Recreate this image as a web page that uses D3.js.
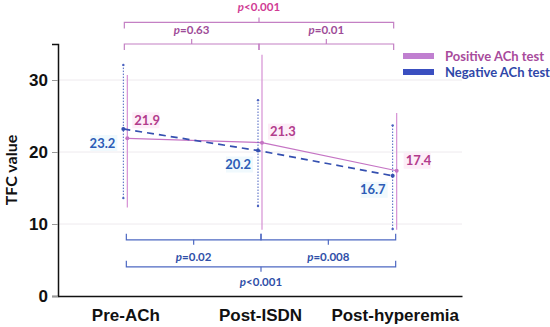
<!DOCTYPE html>
<html>
<head>
<meta charset="utf-8">
<script src="https://cdn.jsdelivr.net/npm/d3@7"></script>
<style>
  body { margin: 0; background: #fff; }
  svg { display: block; font-family: Lato, "Open Sans", sans-serif; }
</style>
</head>
<body>
<div id="chart"></div>
<script>
// Data
const categories = ['Pre-ACh', 'Post-ISDN', 'Post-hyperemia'];
const positiveMean = [21.9, 21.3, 17.4];
const positiveLow = [12.3, 9.2, 9.2];
const positiveHigh = [30.7, 33.5, 25.4];
const negativeMean = [23.2, 20.2, 16.7];
const negativeLow = [13.6, 12.5, 9.3];
const negativeHigh = [32.1, 27.2, 23.7];
const yTicks = [0, 10, 20, 30];

// pairwise comparisons: [fromIndex, toIndex, label]
const positiveTests = [[0, 1, '=0.63'], [1, 2, '=0.01'], [0, 2, '<0.001']];
const negativeTests = [[0, 1, '=0.02'], [1, 2, '=0.008'], [0, 2, '<0.001']];

const width = 550, height = 327;
const margin = { top: 44, right: 88, bottom: 31, left: 58 };

const svg = d3.select('#chart').append('svg')
    .attr('width', width)
    .attr('height', height);

const x = d3.scalePoint()
    .domain(categories)
    .range([margin.left, width - margin.right])
    .padding(0.5);

const y = d3.scaleLinear()
    .domain([0, 35])
    .range([height - margin.bottom, margin.top]);

const pink = { line: '#c574c4', err: '#d690d4', text: '#b23c8c', bg: '#fdeef8' };
const blue = { line: '#3550b0', err: '#4a62c0', text: '#2c5cb6', bg: '#f0f9fd' };

// faint gridlines
svg.append('g')
  .selectAll('line')
    .data(yTicks.filter(d => d > 0))
  .enter().append('line')
    .attr('x1', margin.left).attr('x2', width - margin.right)
    .attr('y1', d => y(d)).attr('y2', d => y(d))
    .attr('stroke', '#eeeaee');

// y axis
const yAxis = svg.append('g')
    .attr('transform', `translate(${margin.left},0)`)
    .call(d3.axisLeft(y).tickValues(yTicks).tickSize(6).tickPadding(4));
yAxis.select('.domain').attr('stroke', '#111').attr('stroke-width', 1.5);
yAxis.selectAll('.tick line').attr('stroke', '#999');
yAxis.selectAll('.tick text')
    .attr('fill', '#111')
    .style('font-size', '17px')
    .style('font-weight', 700);

// x axis (line only, labels below)
const xAxis = svg.append('g')
    .attr('transform', `translate(0,${y(0)})`)
    .call(d3.axisBottom(x).tickSize(0).tickPadding(13));
xAxis.select('.domain').attr('stroke', '#111').attr('stroke-width', 1.5);
xAxis.selectAll('.tick text')
    .attr('fill', '#111')
    .style('font-size', '17px')
    .style('font-weight', 700);

svg.append('text')
    .attr('transform', `translate(17,${(y(0) + y(35)) / 2}) rotate(-90)`)
    .attr('text-anchor', 'middle')
    .attr('fill', '#111')
    .style('font-size', '16px')
    .style('font-weight', 700)
    .text('TFC value');

function drawSeries(mean, low, high, col, dx, dashed) {
    const g = svg.append('g');
    // error bars
    g.selectAll('line.err')
        .data(categories)
      .enter().append('line')
        .attr('class', 'err')
        .attr('x1', d => x(d) + dx).attr('x2', d => x(d) + dx)
        .attr('y1', (d, i) => y(low[i])).attr('y2', (d, i) => y(high[i]))
        .attr('stroke', col.err)
        .attr('stroke-width', dashed ? 1 : 1.2)
        .attr('stroke-dasharray', dashed ? '1.5,1.5' : null);
    if (dashed) {
        g.selectAll('circle.cap')
            .data(categories.flatMap((d, i) => [[d, low[i]], [d, high[i]]]))
          .enter().append('circle')
            .attr('cx', d => x(d[0]) + dx)
            .attr('cy', d => y(d[1]))
            .attr('r', 1.2)
            .attr('fill', col.err);
    }
    const line = d3.line()
        .x((d, i) => x(categories[i]) + dx)
        .y(d => y(d));
    g.append('path')
        .datum(mean)
        .attr('d', line)
        .attr('fill', 'none')
        .attr('stroke', col.line)
        .attr('stroke-width', dashed ? 1.7 : 1.2)
        .attr('stroke-dasharray', dashed ? '7,5' : null);
    g.selectAll('circle.pt')
        .data(mean)
      .enter().append('circle')
        .attr('cx', (d, i) => x(categories[i]) + dx)
        .attr('cy', d => y(d))
        .attr('r', 2)
        .attr('fill', col.line);
}

drawSeries(positiveMean, positiveLow, positiveHigh, pink, 2, false);
drawSeries(negativeMean, negativeLow, negativeHigh, blue, -2, true);

// value labels with pale boxes behind
function drawLabels(mean, col, dx, offsets, anchor) {
    mean.forEach((v, i) => {
        const px = x(categories[i]) + dx + offsets[i][0];
        const py = y(v) + offsets[i][1];
        const w = 27, h = 16;
        svg.append('rect')
            .attr('x', anchor === 'start' ? px - 2 : px - w + 2)
            .attr('y', py - h / 2)
            .attr('width', w).attr('height', h)
            .attr('fill', col.bg);
        svg.append('text')
            .attr('x', px).attr('y', py)
            .attr('dy', '0.35em')
            .attr('text-anchor', anchor)
            .attr('fill', col.text)
            .style('font-size', '13px')
            .style('font-weight', 700)
            .text(v.toFixed(1));
    });
}
drawLabels(positiveMean, pink, 2, [[7, -18], [8, -11], [9, -10]], 'start');
drawLabels(negativeMean, blue, -2, [[-8, 14], [-7, 14], [-7, 14]], 'end');

// significance brackets
function bracket(tests, levels, dir, lineCol, textCols, textDy) {
    tests.forEach((t, k) => {
        const x1 = x(categories[t[0]]) + (dir < 0 ? 1 : -1);
        const x2 = x(categories[t[1]]) + (dir < 0 ? 1 : -1);
        const yy = y(levels[k]);
        const xm = (x1 + x2) / 2;
        const g = svg.append('g')
            .attr('stroke', lineCol)
            .attr('stroke-width', 1.2)
            .attr('fill', 'none');
        // dir: +1 ends point down, -1 ends point up
        g.append('path')
            .attr('d', `M${x1},${yy + dir * 6}V${yy}H${x2}V${yy + dir * 6}`);
        g.append('line')
            .attr('x1', xm).attr('x2', xm)
            .attr('y1', yy).attr('y2', yy - dir * 5);
        const txt = svg.append('text')
            .attr('x', xm)
            .attr('y', yy + textDy[k])
            .attr('text-anchor', 'middle')
            .attr('fill', textCols[k])
            .style('font-size', '11.5px')
            .style('font-weight', 700);
        txt.append('tspan').style('font-style', 'italic').text('p');
        txt.append('tspan').text(t[2]);
    });
}
bracket(positiveTests, [35, 35, 38], 1, '#c480c4',
    ['#9e4c98', '#9e4c98', '#d03c94'], [-10, -10, -11]);
bracket(negativeTests, [7.8, 7.8, 4.05], -1, '#4d68c2',
    ['#2f4fa8', '#2f4fa8', '#2f4fa8'], [21, 21, 19]);

// legend
const legendItems = [['Positive ACh test', '#c07fd0', '#a84b9c'], ['Negative ACh test', '#3a4fc0', '#2f47a8']];
const lg = svg.append('g').attr('transform', 'translate(403,53)');
legendItems.forEach((d, i) => {
    lg.append('rect')
        .attr('x', 0).attr('y', i * 16)
        .attr('width', 31).attr('height', 6)
        .attr('fill', d[1]);
    lg.append('text')
        .attr('x', 42).attr('y', i * 16 + 3)
        .attr('dy', '0.35em')
        .attr('fill', d[2])
        .style('font-size', '13px')
        .style('font-weight', 700)
        .text(d[0]);
});
</script>
</body>
</html>
